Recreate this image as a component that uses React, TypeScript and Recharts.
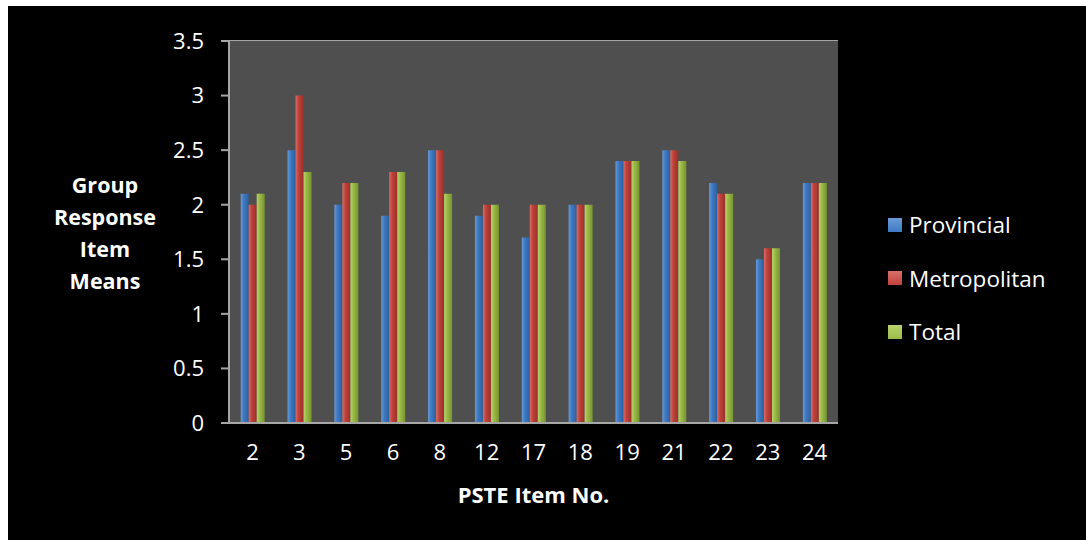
import React from "react";
import { BarChart, Bar, XAxis, YAxis, CartesianGrid } from "recharts";

const items = ["2", "3", "5", "6", "8", "12", "17", "18", "19", "21", "22", "23", "24"];
const provincial = [2.1, 2.5, 2.0, 1.9, 2.5, 1.9, 1.7, 2.0, 2.4, 2.5, 2.2, 1.5, 2.2];
const metropolitan = [2.0, 3.0, 2.2, 2.3, 2.5, 2.0, 2.0, 2.0, 2.4, 2.5, 2.1, 1.6, 2.2];
const total = [2.1, 2.3, 2.2, 2.3, 2.1, 2.0, 2.0, 2.0, 2.4, 2.4, 2.1, 1.6, 2.2];
const yTicks = [0, 0.5, 1, 1.5, 2, 2.5, 3, 3.5];

const FONT = "'Open Sans', sans-serif";

const series = [
  { key: "Provincial", color: "#3f7bc4", light: "#6a9bd8", dark: "#2d5f9e" },
  { key: "Metropolitan", color: "#c2423c", light: "#d8706a", dark: "#983029" },
  { key: "Total", color: "#9bbb48", light: "#b8d36e", dark: "#77942f" },
];

const data = items.map((item, i) => ({
  item,
  Provincial: provincial[i],
  Metropolitan: metropolitan[i],
  Total: total[i],
}));

function LegendBox() {
  return (
    <div style={{ position: "absolute", left: 880, top: 192, fontFamily: FONT }}>
      {series.map((s) => (
        <div key={s.key} style={{ display: "flex", alignItems: "center", height: 53.5 }}>
          <span
            style={{
              display: "inline-block",
              width: 14,
              height: 14,
              marginRight: 7,
              background: `linear-gradient(180deg, ${s.light}, ${s.color})`,
            }}
          />
          <span style={{ color: "#fff", fontSize: 22.5 }}>{s.key}</span>
        </div>
      ))}
    </div>
  );
}

function YTitle() {
  const lines = ["Group", "Response", "Item", "Means"];
  return (
    <g>
      {lines.map((l, i) => (
        <text
          key={l}
          x={97}
          y={178 + i * 32.3}
          textAnchor="middle"
          dominantBaseline="central"
          fill="#fff"
          fontFamily={FONT}
          fontWeight={700}
          fontSize={21.5}
        >
          {l}
        </text>
      ))}
    </g>
  );
}

export default function App() {
  return (
    <div
      style={{
        position: "absolute",
        left: 8,
        top: 6,
        width: 1078,
        height: 534,
        background: "#000",
      }}
    >
      <BarChart
        width={1078}
        height={534}
        data={data}
        margin={{ top: 35, right: 248, left: 0, bottom: 0 }}
        barGap={0}
        barCategoryGap="25%"
      >
        <defs>
          {series.map((s) => (
            <linearGradient key={s.key} id={`g-${s.key}`} x1="0" y1="0" x2="1" y2="0">
              <stop offset="0%" stopColor={s.light} />
              <stop offset="35%" stopColor={s.color} />
              <stop offset="100%" stopColor={s.dark} />
            </linearGradient>
          ))}
        </defs>
        <rect x={221} y={35} width={609} height={382} fill="#4f4f4f" />
        <CartesianGrid vertical={false} stroke="#a6a6a6" strokeWidth={2} />
        <XAxis
          dataKey="item"
          height={117}
          tickLine={false}
          tickSize={0}
          tickMargin={21}
          axisLine={{ stroke: "#a6a6a6", strokeWidth: 2 }}
          tick={{ fill: "#fff", fontSize: 22, fontFamily: FONT }}
          interval={0}
          label={{
            value: "PSTE Item No.",
            position: "insideTop",
            offset: 64,
            fill: "#fff",
            fontSize: 22,
            fontWeight: 700,
            fontFamily: FONT,
          }}
        />
        <YAxis
          width={221}
          domain={[0, 3.5]}
          ticks={yTicks}
          interval={0}
          tickSize={8}
          tickMargin={17}
          tickLine={{ stroke: "#a6a6a6", strokeWidth: 2 }}
          axisLine={{ stroke: "#a6a6a6", strokeWidth: 2 }}
          tick={{ fill: "#fff", fontSize: 22, fontFamily: FONT }}
        />
        {series.map((s) => (
          <Bar
            key={s.key}
            dataKey={s.key}
            fill={`url(#g-${s.key})`}
            isAnimationActive={false}
          />
        ))}
        <YTitle />
      </BarChart>
      <LegendBox />
    </div>
  );
}
